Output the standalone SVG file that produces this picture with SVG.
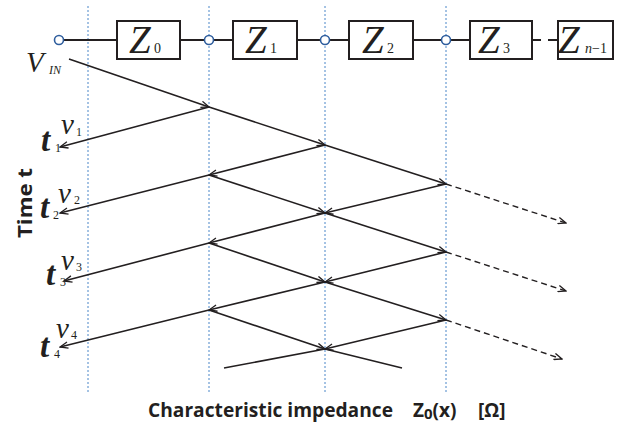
<svg xmlns="http://www.w3.org/2000/svg" width="622" height="425" viewBox="0 0 622 425">
<style>
.grid{stroke:#4a86c8;stroke-width:1;stroke-dasharray:2,2;fill:none}
.wire{stroke:#231f20;stroke-width:2;fill:none}
.box{stroke:#231f20;stroke-width:2;fill:#fff}
.node{stroke:#2f5e9e;stroke-width:1.6;fill:#fff}
.w{stroke:#231f20;stroke-width:1.6;fill:none}
.wa{stroke:#231f20;stroke-width:1.6;fill:none;marker-end:url(#ah)}
.wd{stroke:#231f20;stroke-width:1.4;fill:none;stroke-dasharray:6,4;marker-end:url(#ah)}
.zl{font-family:'Liberation Serif',serif;font-style:italic;font-size:39px;fill:#231f20}
.zs{font-family:'Liberation Serif',serif;font-size:14px;fill:#231f20}
.tl{font-family:'Liberation Serif',serif;font-style:italic;font-weight:bold;font-size:33px;fill:#231f20}
.vl{font-family:'Liberation Serif',serif;font-style:italic;font-size:29px;fill:#231f20}
.sub{font-family:'Liberation Serif',serif;font-size:12px;fill:#231f20}
.ax{font-family:'Open Sans',Lato,sans-serif;font-weight:bold;font-size:19px;fill:#231f20}
</style>
<defs>
<marker id="ah" markerWidth="10" markerHeight="8" refX="9" refY="4" orient="auto" markerUnits="userSpaceOnUse">
<path d="M1,0.8 L9,4 L1,7.2" fill="none" stroke="#231f20" stroke-width="1.3"/>
</marker>
</defs>
<g id="grid">
<line class="grid" x1="88" y1="6" x2="88" y2="394"/>
<line class="grid" x1="209" y1="6" x2="209" y2="394"/>
<line class="grid" x1="325" y1="6" x2="325" y2="394"/>
<line class="grid" x1="446" y1="6" x2="446" y2="394"/>
</g>
<g id="wires">
<line class="wire" x1="63" y1="40" x2="117" y2="40"/>
<line class="wire" x1="180" y1="40" x2="205" y2="40"/>
<line class="wire" x1="213" y1="40" x2="233" y2="40"/>
<line class="wire" x1="297" y1="40" x2="321" y2="40"/>
<line class="wire" x1="329" y1="40" x2="349" y2="40"/>
<line class="wire" x1="413" y1="40" x2="442" y2="40"/>
<line class="wire" x1="450" y1="40" x2="470" y2="40"/>
<line class="wire" x1="532" y1="40" x2="541" y2="40"/>
<line class="wire" x1="548" y1="40" x2="558" y2="40"/>
</g>
<g id="node-in"><circle class="node" cx="59" cy="40" r="4.5"/></g>
<g id="node-1"><circle class="node" cx="209" cy="40" r="4.5"/></g>
<g id="node-2"><circle class="node" cx="325" cy="40" r="4.5"/></g>
<g id="node-3"><circle class="node" cx="446" cy="40" r="4.5"/></g>
<g id="Z0"><rect class="box" x="117" y="21" width="63" height="38"/><text class="zl" x="129" y="53">Z</text><text class="zs" x="154" y="53">0</text></g>
<g id="Z1"><rect class="box" x="233" y="21" width="64" height="38"/><text class="zl" x="245" y="53">Z</text><text class="zs" x="270" y="53">1</text></g>
<g id="Z2"><rect class="box" x="349" y="21" width="64" height="38"/><text class="zl" x="362" y="53">Z</text><text class="zs" x="387" y="53">2</text></g>
<g id="Z3"><rect class="box" x="470" y="21" width="62" height="38"/><text class="zl" x="478" y="53">Z</text><text class="zs" x="503" y="53">3</text></g>
<g id="Zn-1"><rect class="box" x="558" y="21" width="55" height="38"/><text class="zl" x="558" y="53">Z</text><text class="zs" x="585" y="53"><tspan font-style="italic">n</tspan>−1</text></g>
<g id="connectors">
<line class="wa" x1="69" y1="59" x2="209" y2="107"/>
<line class="wa" x1="209" y1="107" x2="325" y2="145"/>
<line class="wa" x1="325" y1="145" x2="446" y2="184"/>
<line class="wd" x1="446" y1="184" x2="566" y2="223"/>
<line class="wa" x1="209" y1="175" x2="325" y2="213"/>
<line class="wa" x1="325" y1="213" x2="446" y2="252"/>
<line class="wd" x1="446" y1="252" x2="566" y2="291"/>
<line class="wa" x1="209" y1="243" x2="325" y2="282"/>
<line class="wa" x1="325" y1="282" x2="446" y2="320"/>
<line class="wd" x1="446" y1="320" x2="562" y2="359"/>
<line class="wa" x1="209" y1="310" x2="325" y2="349"/>
<line class="w" x1="325" y1="349" x2="402" y2="368"/>
<line class="wa" x1="209" y1="107" x2="60" y2="147"/>
<line class="wa" x1="325" y1="145" x2="209" y2="175"/>
<line class="wa" x1="209" y1="175" x2="60" y2="213"/>
<line class="wa" x1="446" y1="184" x2="325" y2="213"/>
<line class="wa" x1="325" y1="213" x2="209" y2="243"/>
<line class="wa" x1="209" y1="243" x2="64" y2="281"/>
<line class="wa" x1="446" y1="252" x2="325" y2="282"/>
<line class="wa" x1="325" y1="282" x2="209" y2="310"/>
<line class="wa" x1="209" y1="310" x2="60" y2="347"/>
<line class="wa" x1="446" y1="320" x2="325" y2="349"/>
<line class="w" x1="325" y1="349" x2="224" y2="368"/>
</g>
<g id="labels">
<text class="vl" x="26" y="72" font-size="32">V</text><text class="sub" x="49" y="74" font-size="9" font-style="italic">IN</text>
<text class="vl" x="61" y="134">v</text><text class="sub" x="76" y="136">1</text>
<text class="tl" x="41" y="151">t</text><text class="sub" x="55" y="152">1</text>
<text class="vl" x="58" y="203">v</text><text class="sub" x="74" y="204">2</text>
<text class="tl" x="40" y="218">t</text><text class="sub" x="53" y="219">2</text>
<text class="vl" x="61" y="270">v</text><text class="sub" x="76" y="271">3</text>
<text class="tl" x="46" y="285">t</text><text class="sub" x="60" y="286">3</text>
<text class="vl" x="56" y="338">v</text><text class="sub" x="71" y="339">4</text>
<text class="tl" x="40" y="357">t</text><text class="sub" x="54" y="358">4</text>
<text class="ax" transform="translate(32,203) rotate(-90)" text-anchor="middle" font-size="23" textLength="70" lengthAdjust="spacingAndGlyphs">Time t</text>
<text class="ax" x="148" y="417" textLength="245" lengthAdjust="spacingAndGlyphs">Characteristic impedance</text>
<text class="ax" x="413" y="417" font-size="20">Z<tspan font-size="15" dy="2">0</tspan><tspan dy="-2">(x)</tspan></text>
<text class="ax" x="478" y="417" font-size="20">[Ω]</text>
</g>
</svg>
